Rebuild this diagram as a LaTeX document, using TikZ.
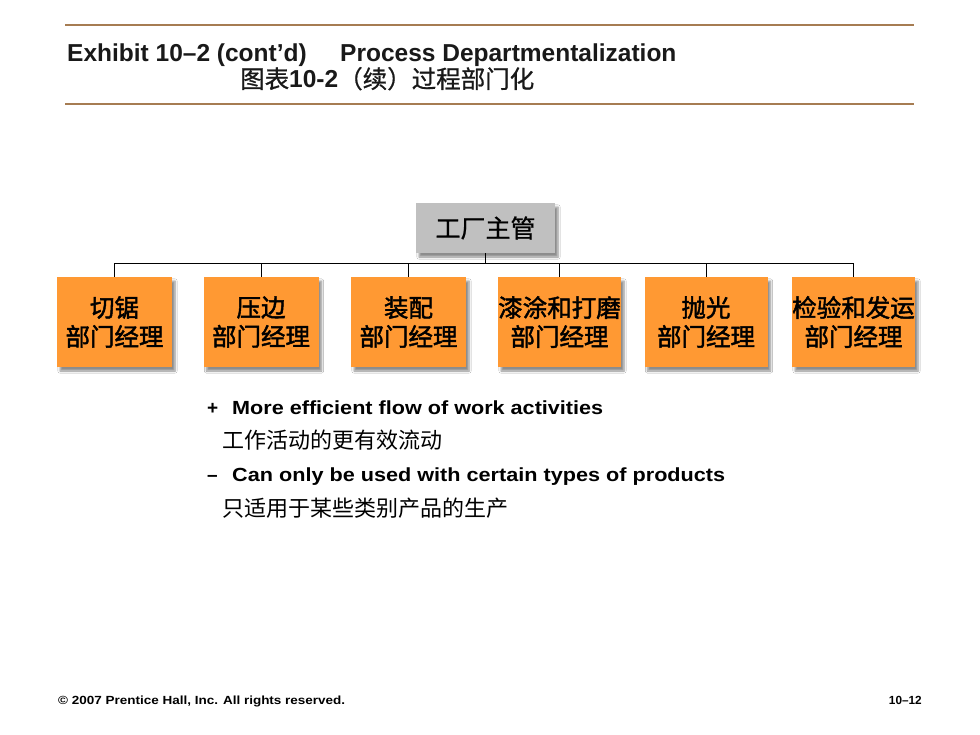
\documentclass[tikz,border=0pt]{standalone}
\usepackage{fontspec}
\usepackage{graphicx}
\setmainfont{Liberation Sans}
\newfontfamily\cjk{Noto Sans CJK SC}
\newfontfamily\cjksemi{Noto Sans CJK SC}[FakeBold=0.8]
\newfontfamily\cjkbox{Noto Sans CJK SC}[FakeBold=1.8]
\usetikzlibrary{shadows.blur}
\definecolor{rulebrown}{RGB}{166,124,82}
\definecolor{boxorange}{RGB}{255,153,51}
\definecolor{boxgray}{RGB}{192,192,192}
\definecolor{titleink}{RGB}{25,25,25}
\tikzset{
  rulerline/.style={draw=rulebrown, line width=2pt},
  obox/.style={rectangle, fill=boxorange, minimum height=90pt, align=center,
    inner sep=0pt, font=\fontsize{24.5}{29}\selectfont\cjkbox,
    blur shadow={shadow xshift=3pt, shadow yshift=-4pt, shadow blur steps=6, shadow opacity=45}},
  gbox/.style={rectangle, fill=boxgray, minimum width=139pt, minimum height=50pt,
    inner sep=0pt, font=\fontsize{25}{29}\selectfont\cjksemi,
    blur shadow={shadow xshift=3pt, shadow yshift=-4pt, shadow blur steps=6, shadow opacity=45}},
  conn/.style={draw=black, line width=0.8pt},
  txt/.style={anchor=base west, inner sep=0pt},
  titlefont/.style={font=\fontsize{24.5}{28}\selectfont\bfseries, text=titleink},
  bulletfont/.style={font=\fontsize{19}{23}\selectfont\bfseries},
  cjkbullet/.style={font=\fontsize{22}{26}\selectfont\cjk},
  footfont/.style={font=\fontsize{11.8}{14}\selectfont\bfseries},
}
\begin{document}
\begin{tikzpicture}[x=1pt,y=-1pt]
\useasboundingbox[fill=white] (0,0) rectangle (980,735);
% header rules
\coordinate (r1a) at (65,25); \coordinate (r1b) at (914,25);
\coordinate (r2a) at (65,104); \coordinate (r2b) at (914,104);
\draw[rulerline] (r1a) -- (r1b);
\draw[rulerline] (r2a) -- (r2b);
% titles
\node[txt, titlefont] (t1) at (67,62) {Exhibit 10–2 (cont’d)};
\node[txt, titlefont] (t2) at (340,62) {Process Departmentalization};
\node[txt, titlefont] (t3) at (240,88) {{\cjksemi\mdseries 图表}10-2{\cjksemi\mdseries （续）过程部门化}};
% org chart
\node[gbox] (top) at (485.5,228) {工厂主管};
\node[obox, minimum width=115pt] (b1) at (114.5,322) {切锯\\部门经理};
\node[obox, minimum width=115pt] (b2) at (261,322) {压边\\部门经理};
\node[obox, minimum width=115pt] (b3) at (408.5,322) {装配\\部门经理};
\node[obox, minimum width=123pt] (b4) at (559.5,322) {漆涂和打磨\\部门经理};
\node[obox, minimum width=123pt] (b5) at (706,322) {抛光\\部门经理};
\node[obox, minimum width=123pt] (b6) at (853.5,322) {检验和发运\\部门经理};
\coordinate (bus) at (485.5,263);
\foreach \b in {b1,b2,b3,b4,b5,b6}
  \draw[conn] (top.south) -- (bus) -| (\b.north);
% bullets
\node[txt, bulletfont] (m1) at (207,414) {+};
\node[txt, bulletfont] (p1) at (232,414) {\resizebox{371pt}{\height}{More efficient flow of work activities}};
\node[txt, cjkbullet] (p2) at (222,448) {工作活动的更有效流动};
\node[txt, bulletfont] (m3) at (207,481) {–};
\node[txt, bulletfont] (p3) at (232,481) {\resizebox{493pt}{\height}{Can only be used with certain types of products}};
\node[txt, cjkbullet] (p4) at (222,516) {只适用于某些类别产品的生产};
% footer
\node[txt, footfont] (f1) at (58,704) {\resizebox{287pt}{\height}{© 2007 Prentice Hall, Inc. All rights reserved.}};
\node[anchor=base east, inner sep=0pt, footfont] (f2) at (922,704) {10–12};
\end{tikzpicture}
\end{document}
